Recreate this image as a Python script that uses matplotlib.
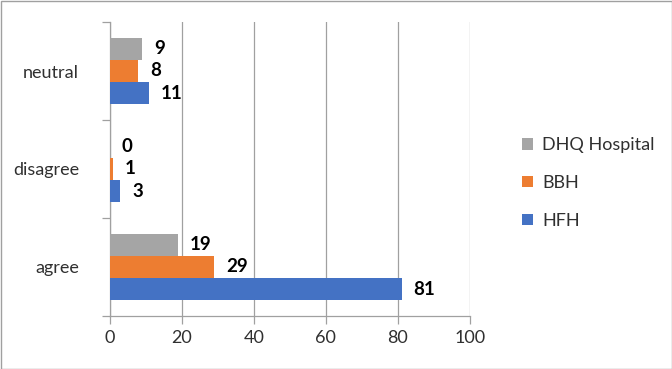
import matplotlib
matplotlib.use("Agg")
import matplotlib.pyplot as plt
import numpy as np
from matplotlib.patches import Rectangle

categories = ["agree", "disagree", "neutral"]
series_names = ["HFH", "BBH", "DHQ Hospital"]
hfh = [81, 3, 11]
bbh = [29, 1, 8]
dhq = [19, 0, 9]
colors = ["#4472C4", "#ED7D31", "#A5A5A5"]
x_ticks = [0, 20, 40, 60, 80, 100]

plt.rcParams['font.family'] = ['Lato', 'DejaVu Sans']

fig = plt.figure(figsize=(6.72, 3.69), dpi=100)
ax = fig.add_axes([109.5/672, 1-316/369, (470-109.5)/672, (316-22)/369])

y = np.arange(len(categories))
h = 0.225
offsets = [-h, 0, h]
handles = []
for vals, name, col, off in zip([hfh, bbh, dhq], series_names, colors, offsets):
    b = ax.barh(y + off, vals, height=h, color=col, label=name, zorder=3)
    handles.append(b)
    for yi, v in zip(y, vals):
        ax.annotate(str(v), (v, yi + off), xytext=(12, 0), textcoords="offset pixels",
                    ha="left", va="center",
                    fontsize=13.5, fontweight="bold", color="black", zorder=4)

ax.set_xlim(0, 100)
ax.set_ylim(-0.5, 2.5)
ax.set_xticks(x_ticks)
ax.set_xticklabels([str(t) for t in x_ticks], fontsize=13, color="#303030")
ax.set_yticks(y)
ax.set_yticklabels(categories, fontsize=13, color="#303030")
ax.set_yticks([-0.5, 0.5, 1.5, 2.5], minor=True)
ax.tick_params(axis="y", which="major", length=0, pad=22)
ax.tick_params(axis="y", which="minor", length=6, color="#A0A0A0", width=0.9)
ax.tick_params(axis="x", which="major", length=6, color="#A0A0A0", width=0.9, pad=4)
ax.grid(axis="x", color="#A0A0A0", linewidth=0.9, zorder=0)
for s in ["top", "right"]:
    ax.spines[s].set_visible(False)
for s in ["left", "bottom"]:
    ax.spines[s].set_color("#A0A0A0")
    ax.spines[s].set_linewidth(0.9)

leg = fig.legend(handles[::-1], series_names[::-1], loc="center left",
                 bbox_to_anchor=(506/672, 1-183/369), frameon=False,
                 fontsize=13, labelspacing=1.2, handlelength=0.6, handleheight=0.6,
                 handletextpad=0.5, labelcolor="#303030")

fig.patches.append(Rectangle((0.5/672, 0.5/369), 1-1/672, 1-1/369, transform=fig.transFigure,
                             fill=False, edgecolor="#A0A0A0", linewidth=1))

fig.savefig("out.png", dpi=100)
